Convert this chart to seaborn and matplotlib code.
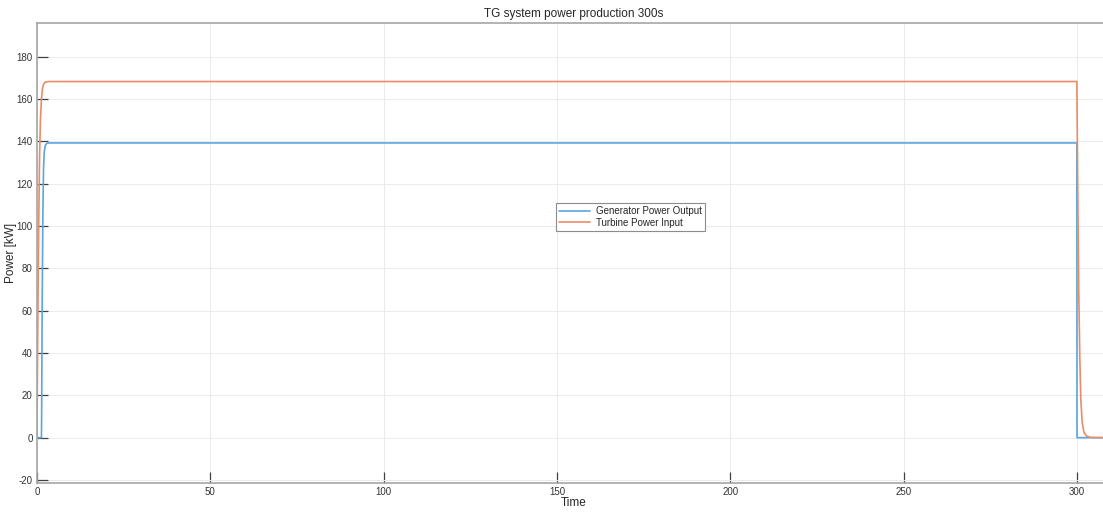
import matplotlib
matplotlib.use("Agg")
import matplotlib.pyplot as plt
import seaborn as sns
import pandas as pd

# Generator electrical output [kW] versus time [s]
gen_time = [0.0, 1.3, 1.35, 1.5, 1.7, 1.9, 2.1, 2.4, 2.8, 3.5, 299.95, 300.0, 309.5]
gen_power = [0.0, 0.0, 10.0, 60.0, 105.0, 127.0, 135.0, 138.0, 139.0, 139.2, 139.2, 0.0, 0.0]

# Turbine mechanical input [kW] versus time [s]
tur_time = [0.0, 0.25, 0.5, 0.75, 1.0, 1.3, 1.6, 2.0, 2.5, 3.5,
            299.95, 300.2, 300.5, 300.8, 301.1, 301.5, 302.0, 302.8, 304.0, 309.5]
tur_power = [0.0, 55.0, 100.0, 132.0, 150.0, 160.0, 165.0, 167.3, 168.0, 168.2,
             168.2, 120.0, 70.0, 38.0, 18.0, 7.0, 2.5, 0.7, 0.1, 0.0]

series_names = ["Generator Power Output", "Turbine Power Input"]
x_ticks = [0, 50, 100, 150, 200, 250, 300]
y_ticks = [-20, 0, 20, 40, 60, 80, 100, 120, 140, 160, 180]

gen_df = pd.DataFrame({"Time": gen_time, "Power": gen_power})
tur_df = pd.DataFrame({"Time": tur_time, "Power": tur_power})

sns.set_theme(style="whitegrid")
plt.rcParams["font.family"] = ["Liberation Sans", "DejaVu Sans"]
plt.rcParams["axes.unicode_minus"] = False

fig = plt.figure(figsize=(11.03, 5.13), dpi=100)
ax = fig.add_axes([0.0335, 0.0585, 0.9728, 0.8973])

blue = "#5aa6df"
orange = "#ea8c66"
sns.lineplot(data=gen_df, x="Time", y="Power", ax=ax, color=blue,
             linewidth=1.2, label=series_names[0], estimator=None, sort=False)
sns.lineplot(data=tur_df, x="Time", y="Power", ax=ax, color=orange,
             linewidth=1.2, label=series_names[1], estimator=None, sort=False)

ax.set_xlim(0, 309.5)
ax.set_ylim(-21.4, 196)
ax.set_xticks(x_ticks)
ax.set_yticks(y_ticks)
ax.set_facecolor("white")
ax.grid(True, color="#ebebeb", linewidth=0.7)
for side in ["left", "bottom", "top", "right"]:
    ax.spines[side].set_color("#a6a6a6")
    ax.spines[side].set_linewidth(1.2)
ax.tick_params(axis="both", direction="in", length=8, width=0.9,
               color="#404040", labelsize=7, labelcolor="#333333", pad=3,
               left=True, bottom=True, right=False, top=False)

ax.set_title("TG system power production 300s", fontsize=8.5, color="#262626", pad=4)
ax.set_xlabel("Time", fontsize=8.5, color="#262626", labelpad=0)
ax.set_ylabel("Power [kW]", fontsize=8.5, color="#262626")
ax.yaxis.set_label_coords(-0.0185, 0.5)

leg = ax.legend(loc="center", bbox_to_anchor=(0.553, 0.578), fontsize=7,
                frameon=True, fancybox=False, framealpha=1, edgecolor="#8c8c8c",
                borderpad=0.3, handlelength=3.2, handletextpad=0.6,
                labelspacing=0.15)
leg.get_frame().set_linewidth(0.8)

fig.savefig("out.png", dpi=100)
